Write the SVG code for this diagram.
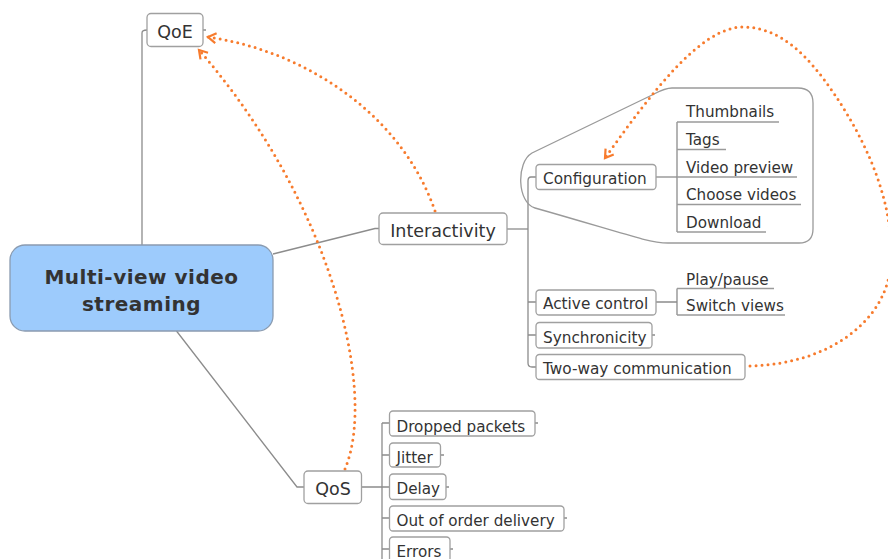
<svg xmlns="http://www.w3.org/2000/svg" width="888" height="559" viewBox="0 0 888 559">
<defs>
<style>
.box{fill:#fff;stroke:#a0a0a0;stroke-width:1.3}
.t{font-family:"DejaVu Sans",sans-serif;fill:#333}
.b{font-size:15.3px}
.l{font-size:15.2px}
.big{font-size:17.5px}
.ln{stroke:#8c8c8c;stroke-width:1.3;fill:none}
.ul{stroke:#9a9a9a;stroke-width:1.6;fill:none}
.dot{stroke:#f77b2d;stroke-width:3;fill:none;stroke-linecap:round;stroke-dasharray:0 6}
</style>
<marker id="ah" viewBox="-10 -8 14 16" refX="0" refY="0" markerWidth="14" markerHeight="16" markerUnits="userSpaceOnUse" orient="auto">
<path d="M-8,-5 L0,0 L-8,5" fill="none" stroke="#f77b2d" stroke-width="2.2" stroke-linejoin="miter"/>
</marker>
</defs>
<rect width="888" height="559" fill="#fff"/>

<g id="connectors">
<path class="ln" d="M142,245 L142,33 Q142,30 147,30"/>
<path class="ln" d="M273,254 L375,228.5 L379,228.5"/>
<path class="ln" d="M176.5,331 L297,487 L304,487"/>
<path class="ln" d="M507,229 L528,229"/>
<path class="ln" d="M536,177 L531,177 Q528,177 528,181 L528,363 Q528,367 532,367 L536,367"/>
<path class="ln" d="M528,302 L536,302 M528,335 L536,335"/>
<path class="ln" d="M656,177 L677,177"/>
<path class="ln" d="M677,122 L677,232"/>
<path class="ln" d="M656,302 L677,302 M677,288.5 L677,315"/>
<path class="ln" d="M362,487 L382,487 M382,423 L382,559"/>
<path class="ln" d="M382,423 L389,423 M382,455 L389,455 M382,487 L389,487 M382,518 L389,518 M382,549 L389,549"/>
<path class="ln" d="M203,30 L206,30 M535,423 L538,423 M441,455 L444,455 M446,487 L449,487 M564,518 L567,518 M652,335 L655,335 M450,549 L453,549"/>
<path d="M672,88 L798,88 Q813,88 813,103 L813,229 Q813,243 799,243 L668,243 C648,243 620,232 535,208 C517,203 516,162 532,153 L650,96 C658,92 664,88 672,88 Z" fill="none" stroke="#9a9a9a" stroke-width="1.3"/>
<path class="dot" d="M345,469 C378,390 330,200 199,50" marker-end="url(#ah)"/>
<path class="dot" d="M435,211 C400,110 300,50 208,37" marker-end="url(#ah)"/>
<path class="dot" d="M750,366 C830,364 888,320 891,262 C894,200 865,140 835,95 C808,55 780,27 743,27 C700,27 650,95 605,158" marker-end="url(#ah)"/>
</g>

<g id="main">
<rect x="10" y="245" width="263" height="86" rx="15" fill="#9dcbfc" stroke="#8a9bb0" stroke-width="1.3"/>
<text class="t" x="141.5" y="284" text-anchor="middle" font-size="20px" font-weight="bold" letter-spacing="0.5">Multi-view video</text>
<text class="t" x="141.5" y="311" text-anchor="middle" font-size="20px" font-weight="bold" letter-spacing="0.5">streaming</text>
</g>

<g id="qoe">
<rect class="box" x="147" y="13.5" width="56" height="33" rx="4"/>
<text class="t big" x="175" y="37.5" text-anchor="middle">QoE</text>
</g>

<g id="interactivity">
<rect class="box" x="379" y="213" width="128" height="31.5" rx="4"/>
<text class="t big" x="443" y="236.5" text-anchor="middle">Interactivity</text>
</g>

<g id="qos">
<rect class="box" x="304" y="471" width="57.5" height="32.5" rx="4"/>
<text class="t big" x="333" y="495" text-anchor="middle">QoS</text>
</g>

<g id="configuration">
<rect class="box" x="536" y="164.5" width="120" height="25" rx="3.5"/>
<text class="t b" x="543" y="184">Configuration</text>
</g>
<g id="thumbnails">
<path class="ul" d="M677,122 L779,122"/>
<text class="t l" x="686" y="117.3">Thumbnails</text>
</g>
<g id="tags">
<path class="ul" d="M677,149.5 L726,149.5"/>
<text class="t l" x="686" y="145">Tags</text>
</g>
<g id="video-preview">
<path class="ul" d="M677,177 L797,177"/>
<text class="t l" x="686" y="172.5">Video preview</text>
</g>
<g id="choose-videos">
<path class="ul" d="M677,204.5 L801,204.5"/>
<text class="t l" x="686" y="200">Choose videos</text>
</g>
<g id="download">
<path class="ul" d="M677,232 L766,232"/>
<text class="t l" x="686" y="227.5">Download</text>
</g>

<g id="active-control">
<rect class="box" x="536" y="290" width="120" height="25" rx="3.5"/>
<text class="t b" x="543" y="309.3">Active control</text>
</g>
<g id="play-pause">
<path class="ul" d="M677,288.5 L774,288.5"/>
<text class="t l" x="686" y="284.5">Play/pause</text>
</g>
<g id="switch-views">
<path class="ul" d="M677,315 L785,315"/>
<text class="t l" x="686" y="311">Switch views</text>
</g>

<g id="synchronicity">
<rect class="box" x="536" y="322.5" width="116" height="25.5" rx="3.5"/>
<text class="t b" x="543" y="342.5">Synchronicity</text>
</g>
<g id="two-way">
<rect class="box" x="536" y="354.5" width="209" height="25" rx="3.5"/>
<text class="t b" x="543" y="374">Two-way communication</text>
</g>

<g id="dropped-packets">
<rect class="box" x="389.5" y="411" width="145.5" height="25" rx="3.5"/>
<text class="t l" x="396.5" y="431.5">Dropped packets</text>
</g>
<g id="jitter">
<rect class="box" x="389.5" y="443" width="51" height="24" rx="3.5"/>
<text class="t l" x="396.5" y="462.5">Jitter</text>
</g>
<g id="delay">
<rect class="box" x="389.5" y="474" width="56.5" height="25.5" rx="3.5"/>
<text class="t l" x="396.5" y="494">Delay</text>
</g>
<g id="out-of-order">
<rect class="box" x="389.5" y="506" width="174.5" height="25" rx="3.5"/>
<text class="t l" x="396.5" y="526">Out of order delivery</text>
</g>
<g id="errors">
<rect class="box" x="389.5" y="537" width="60.5" height="25" rx="3.5"/>
<text class="t l" x="396.5" y="556.5">Errors</text>
</g>
</svg>
